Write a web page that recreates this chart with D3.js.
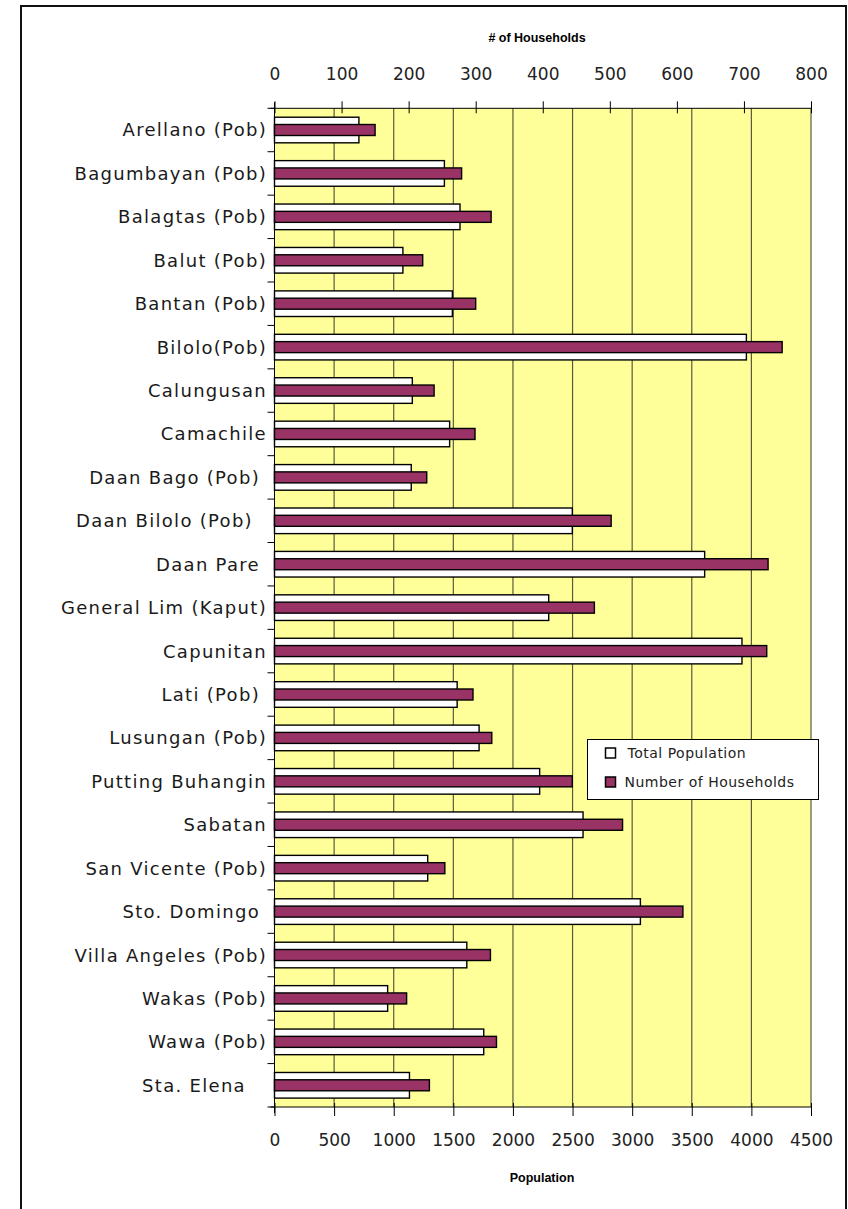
<!DOCTYPE html>
<html>
<head>
<meta charset="utf-8">
<style>
  body { margin: 0; background: #fff; }
  .cat { font-family: "DejaVu Sans", sans-serif; font-size: 18px; fill: #1a1a1a; white-space: pre; letter-spacing: 1.3px; }
  .tick text { font-family: "DejaVu Sans", sans-serif; font-size: 17px; fill: #222; }
  .ttl { font-family: "Liberation Sans", Arial, sans-serif; font-size: 12.5px; font-weight: bold; fill: #000; }
  .leg { font-family: "DejaVu Sans", sans-serif; font-size: 14px; fill: #222; letter-spacing: 0.5px; }
</style>
</head>
<body>
<svg width="848" height="1209"></svg>
<script src="https://cdnjs.cloudflare.com/ajax/libs/d3/7.8.5/d3.min.js"></script>
<script>
var categories = ["Arellano (Pob)", "Bagumbayan (Pob)", "Balagtas (Pob)", "Balut (Pob)", "Bantan (Pob)",
  "Bilolo(Pob)", "Calungusan", "Camachile", "Daan Bago (Pob) ", "Daan Bilolo (Pob)  ", "Daan Pare ",
  "General Lim (Kaput)", "Capunitan", "Lati (Pob) ", "Lusungan (Pob)", "Putting Buhangin", "Sabatan",
  "San Vicente (Pob)", "Sto. Domingo ", "Villa Angeles (Pob)", "Wakas (Pob)", "Wawa (Pob)", "Sta. Elena   "];

var population = [708, 1425, 1556, 1077, 1492, 3958, 1156, 1469, 1147, 2498, 3608, 2300, 3921, 1532,
  1716, 2224, 2588, 1285, 3069, 1613, 949, 1755, 1132];

var households = [150, 279, 323, 221, 300, 757, 238, 299, 227, 502, 736, 477, 734, 296, 324, 444,
  519, 254, 609, 322, 197, 331, 231];

var popTicks = [0, 500, 1000, 1500, 2000, 2500, 3000, 3500, 4000, 4500];
var hhTicks = [0, 100, 200, 300, 400, 500, 600, 700, 800];
var legendLabels = ["Total Population", "Number of Households"];

var svg = d3.select("svg");

var plotL = 274.5, plotR = 811, plotT = 108.3, plotB = 1107;

var x = d3.scaleLinear().domain([0, 4500]).range([plotL, plotR]);
var x2 = d3.scaleLinear().domain([0, 800]).range([plotL, plotR]);
var y = d3.scaleBand()
    .domain(categories)
    .range([plotT, plotB])
    .paddingInner(0.41)
    .paddingOuter(0.205);

// outer frame
svg.append("rect")
    .attr("x", 21).attr("y", 6)
    .attr("width", 825).attr("height", 1220)
    .attr("fill", "#fff")
    .attr("stroke", "#111")
    .attr("stroke-width", 2);

// plot area
svg.append("rect")
    .attr("x", plotL).attr("y", plotT)
    .attr("width", plotR - plotL).attr("height", plotB - plotT)
    .attr("fill", "#ffff99");

// gridlines at population ticks
svg.append("g")
  .selectAll("line")
  .data(popTicks.slice(1))
  .enter().append("line")
    .attr("x1", function(d) { return x(d); })
    .attr("x2", function(d) { return x(d); })
    .attr("y1", plotT).attr("y2", plotB)
    .attr("stroke", "#5a5a40")
    .attr("stroke-width", 1.2);

var rows = categories.map(function(c, i) {
  return {name: c, pop: population[i], hh: households[i]};
});

var hhH = 11;

// population bars (white, primary axis)
svg.append("g")
  .selectAll("rect")
  .data(rows)
  .enter().append("rect")
    .attr("x", x(0))
    .attr("y", function(d) { return y(d.name); })
    .attr("width", function(d) { return x(d.pop) - x(0); })
    .attr("height", y.bandwidth())
    .attr("fill", "#fff")
    .attr("stroke", "#000")
    .attr("stroke-width", 1.4);

// households bars (maroon, secondary axis)
svg.append("g")
  .selectAll("rect")
  .data(rows)
  .enter().append("rect")
    .attr("x", x2(0))
    .attr("y", function(d) { return y(d.name) + (y.bandwidth() - hhH) / 2; })
    .attr("width", function(d) { return x2(d.hh) - x2(0); })
    .attr("height", hhH)
    .attr("fill", "#993366")
    .attr("stroke", "#000")
    .attr("stroke-width", 1.4);

// top axis (households)
var topAxis = svg.append("g")
    .attr("transform", "translate(0," + plotT + ")")
    .call(d3.axisTop(x2).tickValues(hhTicks).tickFormat(d3.format("d")).tickSize(7).tickPadding(21));
topAxis.select(".domain").attr("stroke", "#000").attr("d", "M" + (plotL - 4) + ",0H" + plotR);
topAxis.selectAll(".tick line").attr("y1", 5).attr("stroke", "#000");

// bottom axis (population)
var botAxis = svg.append("g")
    .attr("transform", "translate(0," + plotB + ")")
    .call(d3.axisBottom(x).tickValues(popTicks).tickFormat(d3.format("d")).tickSize(9).tickPadding(18));
botAxis.select(".domain").attr("stroke", "#000").attr("d", "M" + (plotL - 4) + ",0H" + plotR);
botAxis.selectAll(".tick line").attr("y1", -4).attr("stroke", "#000");

// left category axis
svg.append("line")
    .attr("x1", plotL).attr("x2", plotL)
    .attr("y1", plotT - 6).attr("y2", plotB + 6)
    .attr("stroke", "#000");

var bounds = categories.map(function(c) { return y(c) - y.step() * y.paddingOuter(); });
bounds.push(plotB);
svg.append("g")
  .selectAll("line")
  .data(bounds)
  .enter().append("line")
    .attr("x1", plotL - 7).attr("x2", plotL)
    .attr("y1", function(d) { return d; })
    .attr("y2", function(d) { return d; })
    .attr("stroke", "#000");

svg.append("g")
  .selectAll("text")
  .data(categories)
  .enter().append("text")
    .attr("class", "cat")
    .attr("x", 267)
    .attr("y", function(d) { return y(d) + y.bandwidth() / 2; })
    .attr("dy", "0.36em")
    .attr("text-anchor", "end")
    .text(function(d) { return d; });

// axis titles
svg.append("text").attr("class", "ttl")
    .attr("x", 537).attr("y", 42).attr("text-anchor", "middle")
    .text("# of Households");
svg.append("text").attr("class", "ttl")
    .attr("x", 542).attr("y", 1182).attr("text-anchor", "middle")
    .text("Population");

// legend
var lg = svg.append("g").attr("transform", "translate(587.5,739.5)");
lg.append("rect")
    .attr("width", 231).attr("height", 60)
    .attr("fill", "#fff").attr("stroke", "#000");
var swatch = ["#fff", "#993366"];
lg.selectAll(".sw")
  .data(legendLabels)
  .enter().append("rect")
    .attr("class", "sw")
    .attr("x", 18)
    .attr("y", function(d, i) { return 8.5 + i * 29; })
    .attr("width", 10).attr("height", 10)
    .attr("fill", function(d, i) { return swatch[i]; })
    .attr("stroke", "#000").attr("stroke-width", 1.5);
lg.selectAll(".leg")
  .data(legendLabels)
  .enter().append("text")
    .attr("class", "leg")
    .attr("x", function(d, i) { return i === 0 ? 40 : 37; })
    .attr("y", function(d, i) { return 13.5 + i * 29; })
    .attr("dy", "0.36em")
    .text(function(d) { return d; });
</script>
</body>
</html>
